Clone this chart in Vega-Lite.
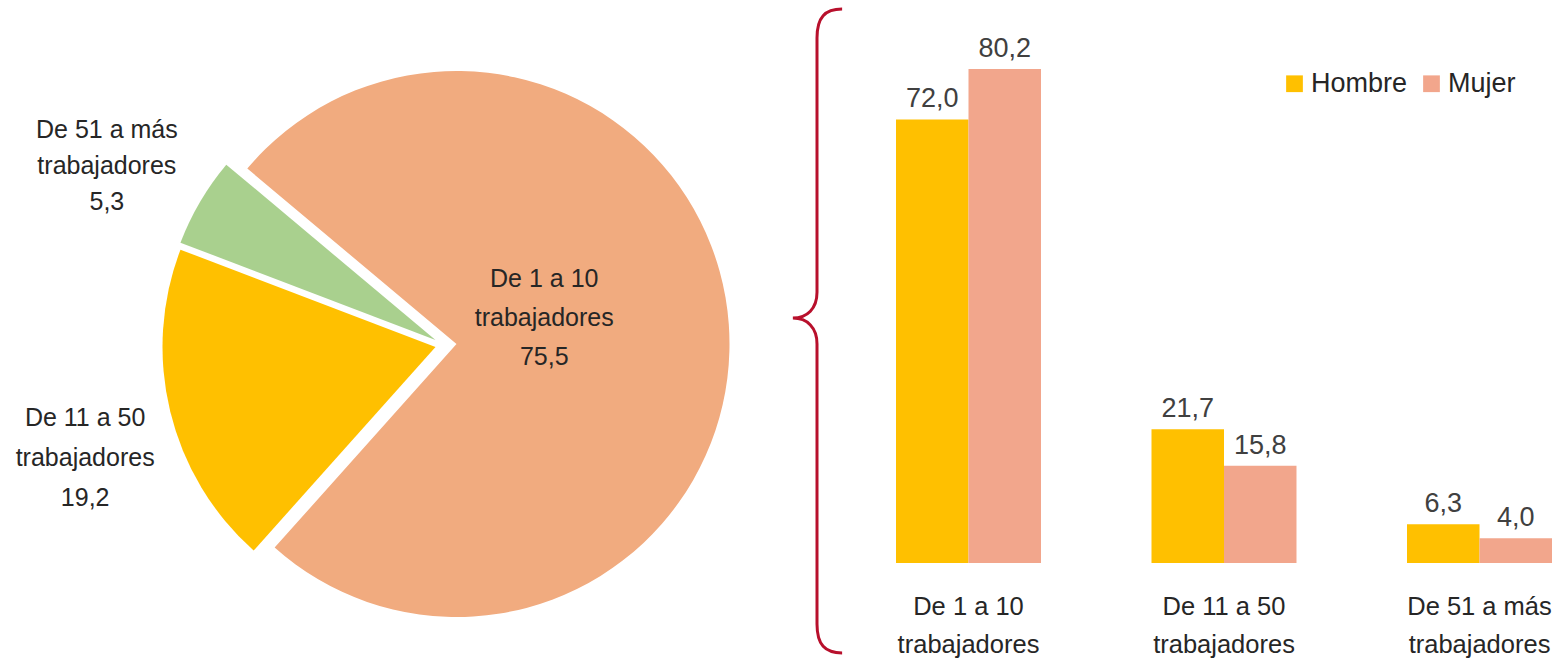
{
  "$schema": "https://vega.github.io/schema/vega-lite/v6.json",
  "padding": 0,
  "spacing": 0,
  "background": "white",
  "config": {
    "view": {"stroke": null},
    "font": "Liberation Sans, Arial, sans-serif",
    "concat": {"spacing": 0}
  },
  "hconcat": [
    {
      "width": 745,
      "height": 662,
      "data": {"values": [
        {"cat": "De 1 a 10 trabajadores", "value": 75.5, "order": 1},
        {"cat": "De 11 a 50 trabajadores", "value": 19.2, "order": 2},
        {"cat": "De 51 a más trabajadores", "value": 5.3, "order": 3}
      ]},
      "transform": [
        {"stack": "value", "groupby": [], "sort": [{"field": "order"}], "as": ["v0", "v1"]},
        {"calculate": "(datum.v0 + datum.v1) / 2", "as": "mid"},
        {"calculate": "[replace(datum.cat, ' trabajadores', ''), 'trabajadores', replace(format(datum.value, '.1f'), '.', ',')]", "as": "lines"}
      ],
      "layer": [
        {
          "transform": [{"filter": "datum.order == 1"}],
          "mark": {"type": "arc", "radius": 273, "color": "#F1AB7F", "xOffset": 84, "yOffset": 13},
          "encoding": {
            "theta": {"field": "v0", "type": "quantitative", "scale": {"domain": [0, 100], "range": [-0.873, 5.410]}},
            "theta2": {"field": "v1"}
          }
        },
        {
          "transform": [{"filter": "datum.order == 2"}],
          "mark": {"type": "arc", "radius": 273, "color": "#FFC000", "xOffset": 63, "yOffset": 16},
          "encoding": {
            "theta": {"field": "v0", "type": "quantitative"},
            "theta2": {"field": "v1"}
          }
        },
        {
          "transform": [{"filter": "datum.order == 3"}],
          "mark": {"type": "arc", "radius": 273, "color": "#A9D08E", "xOffset": 63, "yOffset": 9},
          "encoding": {
            "theta": {"field": "v0", "type": "quantitative"},
            "theta2": {"field": "v1"}
          }
        },
        {
          "transform": [{"filter": "datum.order == 1"}],
          "mark": {"type": "text", "radius": 100, "xOffset": 72, "yOffset": -45, "fontSize": 25, "lineHeight": 39, "color": "#262626"},
          "encoding": {
            "theta": {"field": "mid", "type": "quantitative"},
            "text": {"field": "lines"}
          }
        },
        {
          "transform": [{"filter": "datum.order == 2"}],
          "mark": {"type": "text", "radius": 376, "xOffset": 78, "yOffset": -2, "fontSize": 25, "lineHeight": 40, "color": "#262626"},
          "encoding": {
            "theta": {"field": "mid", "type": "quantitative"},
            "text": {"field": "lines"}
          }
        },
        {
          "transform": [{"filter": "datum.order == 3"}],
          "mark": {"type": "text", "radius": 380, "xOffset": 62, "yOffset": -9, "fontSize": 25, "lineHeight": 36, "color": "#262626"},
          "encoding": {
            "theta": {"field": "mid", "type": "quantitative"},
            "text": {"field": "lines"}
          }
        }
      ]
    },
    {
      "width": 144,
      "height": 662,
      "data": {"values": [{"item": "brace"}]},
      "mark": {
        "type": "point",
        "shape": "M0.078,-1 C0.025,-1 0,-0.975 0,-0.91 L0,-0.12 C0,-0.07 -0.03,-0.04 -0.075,-0.04 C-0.03,-0.04 0,-0.01 0,0.04 L0,0.91 C0,0.975 0.025,1 0.078,1",
        "size": 414736,
        "filled": false,
        "opacity": 1,
        "strokeWidth": 3,
        "color": "#B8102C"
      },
      "encoding": {}
    },
    {
      "width": 670,
      "height": 563,
      "data": {"values": [
        {"cat": "De 1 a 10 trabajadores", "sex": "Hombre", "value": 72.0},
        {"cat": "De 1 a 10 trabajadores", "sex": "Mujer", "value": 80.2},
        {"cat": "De 11 a 50 trabajadores", "sex": "Hombre", "value": 21.7},
        {"cat": "De 11 a 50 trabajadores", "sex": "Mujer", "value": 15.8},
        {"cat": "De 51 a más trabajadores", "sex": "Hombre", "value": 6.3},
        {"cat": "De 51 a más trabajadores", "sex": "Mujer", "value": 4.0}
      ]},
      "transform": [
        {"calculate": "replace(format(datum.value, '.1f'), '.', ',')", "as": "lbl"}
      ],
      "encoding": {
        "x": {
          "field": "cat", "type": "nominal",
          "sort": ["De 1 a 10 trabajadores", "De 11 a 50 trabajadores", "De 51 a más trabajadores"],
          "scale": {"paddingInner": 0.4325, "paddingOuter": 0.0274},
          "axis": {
            "title": null, "domain": false, "ticks": false, "tickSize": 0,
            "labelAngle": 0, "labelFontSize": 25.5, "labelLineHeight": 38, "labelPadding": 31,
            "labelColor": "#262626", "labelLimit": 300,
            "labelExpr": "[replace(datum.label, ' trabajadores', ''), 'trabajadores']"
          }
        },
        "xOffset": {"field": "sex", "type": "nominal", "sort": ["Hombre", "Mujer"], "scale": {"paddingInner": 0, "paddingOuter": 0}},
        "y": {"field": "value", "type": "quantitative", "scale": {"domain": [0, 91.4], "nice": false}, "axis": null}
      },
      "layer": [
        {
          "mark": {"type": "bar"},
          "encoding": {
            "color": {
              "field": "sex", "type": "nominal",
              "scale": {"domain": ["Hombre", "Mujer"], "range": ["#FFC000", "#F2A68C"]},
              "legend": {
                "title": null, "orient": "none", "legendX": 1281, "legendY": 70,
                "direction": "horizontal", "symbolType": "square", "symbolSize": 280,
                "symbolStrokeWidth": 0, "labelFontSize": 27, "labelColor": "#262626",
                "columnPadding": 10, "labelOffset": 3
              }
            }
          }
        },
        {
          "mark": {"type": "text", "baseline": "alphabetic", "dy": -12, "fontSize": 27, "color": "#404040"},
          "encoding": {"text": {"field": "lbl"}}
        }
      ]
    }
  ]
}
